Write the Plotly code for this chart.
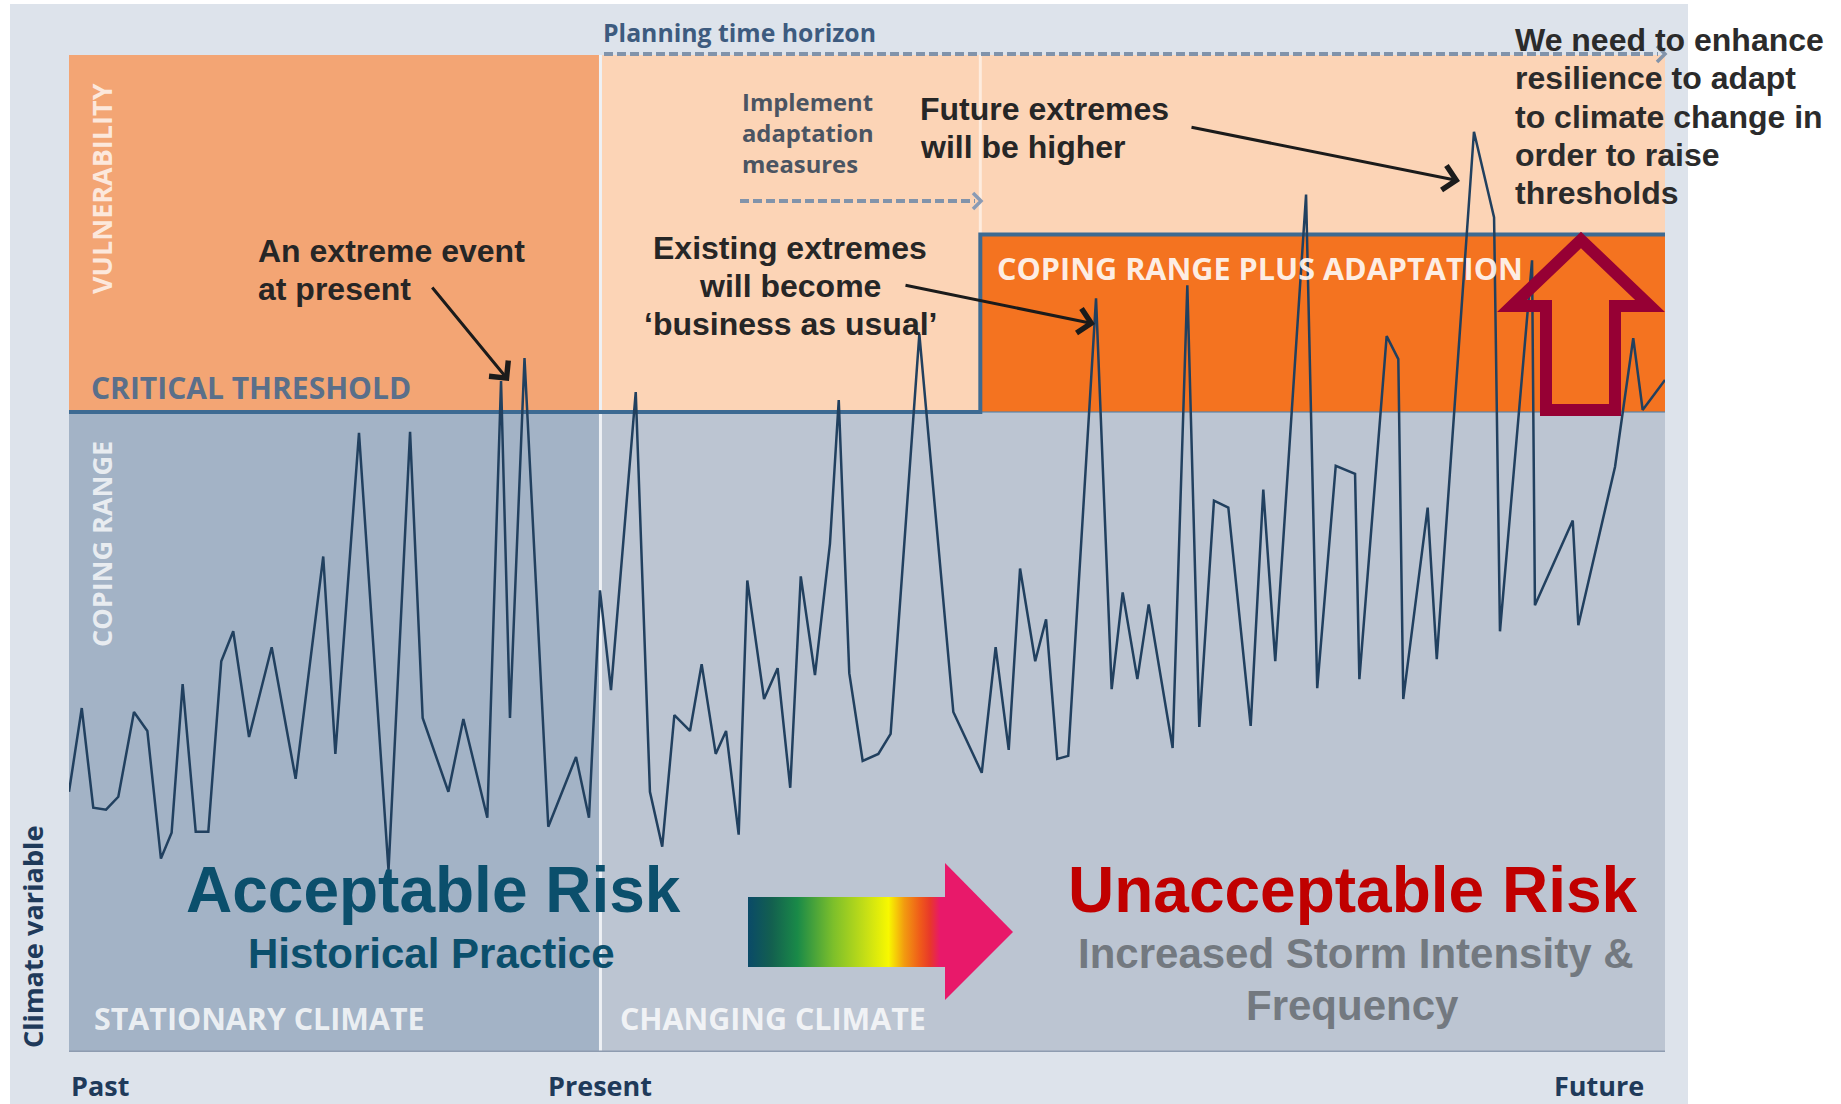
import plotly.graph_objects as go

# ---------------------------------------------------------------------------
# Data: climate variable through time (time: 0 = past ... 100 = future,
# climate variable on a 0-100 scale of the diagram)
# ---------------------------------------------------------------------------
time = [0.0, 0.80, 1.52, 2.32, 3.09, 4.07, 4.91, 5.76, 6.43, 7.12,
        7.94, 8.73, 9.54, 10.29, 11.28, 12.70, 14.20, 15.93, 16.69, 18.17,
        20.02, 21.37, 22.16, 23.77, 24.71, 26.21, 27.07, 27.63, 28.54, 30.03,
        31.77, 32.58, 33.27, 33.96, 35.51, 36.40, 37.17, 37.93, 38.91, 39.64,
        40.52, 41.17, 41.96, 42.50, 43.55, 44.40, 45.19, 45.85, 46.74, 47.68,
        48.23, 48.89, 49.73, 50.71, 51.48, 53.28, 55.41, 57.19, 58.06, 58.88,
        59.59, 60.54, 61.22, 61.92, 62.61, 64.35, 65.33, 66.02, 66.94, 67.65,
        69.15, 70.07, 70.82, 71.74, 72.64, 74.04, 74.83, 75.58, 77.51, 78.21,
        79.37, 80.58, 80.85, 82.56, 83.29, 83.60, 85.13, 85.70, 88.03, 89.29,
        89.66, 91.67, 91.85, 94.22, 94.57, 96.87, 98.01, 98.60, 100.0]

climate = [26.1, 34.5, 24.5, 24.3, 25.6, 34.1, 32.2, 19.4, 22.0, 36.9,
           22.1, 22.1, 39.2, 42.2, 31.6, 40.6, 27.4, 49.7, 29.9, 62.1,
           18.2, 62.2, 33.5, 26.1, 33.4, 23.5, 67.3, 33.5, 69.6, 22.6,
           29.6, 23.5, 46.3, 36.3, 66.2, 26.1, 20.6, 33.8, 32.2, 38.9,
           29.9, 32.2, 21.8, 47.3, 35.4, 38.5, 26.5, 47.7, 37.8, 51.0,
           65.4, 38.0, 29.2, 29.9, 31.9, 72.0, 34.1, 28.0, 40.6, 30.3,
           48.5, 39.2, 43.4, 29.4, 29.7, 75.6, 36.4, 46.1, 37.4, 44.9,
           30.5, 76.9, 32.6, 55.3, 54.6, 32.7, 56.4, 39.2, 86.0, 36.5,
           58.8, 58.0, 37.4, 71.8, 69.5, 35.4, 54.6, 39.4, 92.3, 83.7,
           42.2, 79.4, 44.8, 53.3, 42.8, 58.7, 71.6, 64.4, 67.4]

CRITICAL_THRESHOLD = 64.2   # coping range limit today
ADAPTED_THRESHOLD = 82.0    # coping range plus adaptation
PRESENT = 33.3              # time of "Present"
ADAPTATION_START = 57.1     # adaptation measures implemented

time_labels = ["Past", "Present", "Future"]
time_label_pos = [0.0, PRESENT, 98.8]

# ---------------------------------------------------------------------------
# Canvas geometry (pixels)
# ---------------------------------------------------------------------------
W, H = 1841, 1104
PL, PR, PT, PB = 69, 1665, 55, 1052     # diagram panel

OPEN = "Open Sans"
ARIAL = "Liberation Sans, Arial, sans-serif"


def tx(t):
    """time value -> canvas pixel x"""
    return PL + t / 100 * (PR - PL)


fig = go.Figure()

# climate variable series
fig.add_trace(go.Scatter(
    x=time, y=climate, mode="lines",
    line=dict(color="#21405f", width=2.5),
    xaxis="x", yaxis="y", hoverinfo="skip", showlegend=False,
))

# gradient risk arrow (shaft with colour gradient, solid head)
fig.add_trace(go.Scatter(
    x=[748, 946, 946, 748, 748], y=[897, 897, 967, 967, 897],
    mode="none", fill="toself",
    fillgradient=dict(
        type="horizontal", start=748, stop=946,
        colorscale=[[0.0, "#0a4a68"], [0.12, "#13604f"], [0.25, "#1a8a48"],
                    [0.43, "#7cbf2b"], [0.60, "#c8e015"], [0.71, "#f8f800"],
                    [0.79, "#f29a10"], [0.87, "#ef5a1a"], [0.92, "#e8382a"],
                    [0.97, "#e8196a"], [1.0, "#e8196a"]]),
    xaxis="x2", yaxis="y2", hoverinfo="skip", showlegend=False,
))
fig.add_trace(go.Scatter(
    x=[945, 1013, 945, 945], y=[863, 932, 1000, 863],
    mode="none", fill="toself", fillcolor="#e8196a",
    xaxis="x2", yaxis="y2", hoverinfo="skip", showlegend=False,
))

shapes = []


def px_x(x):
    return x / W


def px_y(y):
    return 1 - y / H


def rect(x0, x1, y0, y1, color, ref="data", layer="below"):
    if ref == "data":
        shapes.append(dict(type="rect", xref="x", yref="y", x0=x0, x1=x1,
                           y0=y0, y1=y1, fillcolor=color, line=dict(width=0),
                           layer=layer))
    else:
        shapes.append(dict(type="rect", xref="paper", yref="paper",
                           x0=px_x(x0), x1=px_x(x1), y0=px_y(y0), y1=px_y(y1),
                           fillcolor=color, line=dict(width=0), layer=layer))


def seg(x0, y0, x1, y1, color, width, ref="data", dash=None, layer="below"):
    ln = dict(color=color, width=width)
    if dash:
        ln["dash"] = dash
    if ref == "data":
        shapes.append(dict(type="line", xref="x", yref="y", x0=x0, y0=y0,
                           x1=x1, y1=y1, line=ln, layer=layer))
    else:
        shapes.append(dict(type="line", xref="paper", yref="paper",
                           x0=px_x(x0), y0=px_y(y0), x1=px_x(x1), y1=px_y(y1),
                           line=ln, layer=layer))


def poly(points, color, width, close=False, layer="above"):
    d = "M " + " L ".join(f"{px_x(x):.5f},{px_y(y):.5f}" for x, y in points)
    if close:
        d += " Z"
    shapes.append(dict(type="path", xref="paper", yref="paper", path=d,
                       line=dict(color=color, width=width), layer=layer))


# page background
rect(10, 1688, 4, H, "#dde3eb", ref="px")

# vulnerability zones
rect(0, PRESENT, CRITICAL_THRESHOLD, 100, "#f3a574")
rect(PRESENT, 100, CRITICAL_THRESHOLD, 100, "#fcd4b6")
rect(ADAPTATION_START, 100, CRITICAL_THRESHOLD, ADAPTED_THRESHOLD, "#f47320")
# coping range zones
rect(0, PRESENT, 0, CRITICAL_THRESHOLD, "#a3b3c6")
rect(PRESENT, 100, 0, CRITICAL_THRESHOLD, "#bcc5d2")

# present divider and faint adaptation divider
seg(PRESENT, 0, PRESENT, 100, "#eef1f5", 3)
seg(ADAPTATION_START, ADAPTED_THRESHOLD, ADAPTATION_START, 100,
    "rgba(255,255,255,0.55)", 3)
# faint old threshold under the adaptation band
seg(ADAPTATION_START, CRITICAL_THRESHOLD, 100, CRITICAL_THRESHOLD,
    "rgba(80,130,170,0.55)", 2)
# panel base line
seg(0, 0, 100, 0, "#8e9cb0", 3)

# threshold line with the adaptation step
shapes.append(dict(
    type="path", xref="x", yref="y", layer="below",
    path=(f"M 0,{CRITICAL_THRESHOLD} L {ADAPTATION_START},{CRITICAL_THRESHOLD} "
          f"L {ADAPTATION_START},{ADAPTED_THRESHOLD} L 100,{ADAPTED_THRESHOLD}"),
    line=dict(color="#3d6a92", width=4)))

# planning time horizon dashed arrow
seg(604, 54, 1658, 54, "#8193aa", 4, ref="px", dash="9px,4px", layer="above")
poly([(1657, 46), (1665, 54), (1657, 62)], "#8193aa", 3.5)
# implement adaptation measures dashed arrow
seg(740, 201, 975, 201, "#8193aa", 4, ref="px", dash="9px,4px", layer="above")
poly([(973, 193), (981, 201), (973, 209)], "#8a9bb5", 3.5)

# raise thresholds arrow (outline)
poly([(1581, 240), (1650, 306), (1615, 306), (1615, 410), (1546, 410),
      (1546, 306), (1512, 306)], "#960034", 12, close=True)

annotations = []


def text(t, x, y, size, color, family=OPEN, weight=700, xanchor="center",
         angle=0):
    annotations.append(dict(
        text=t, x=x, y=y, xref="x2", yref="y2", showarrow=False,
        xanchor=xanchor, yanchor="middle", textangle=angle,
        font=dict(family=family, size=size, color=color, weight=weight)))


def lines(rows, x, y0, step, size, color, family=ARIAL, weight=700,
          xanchor="left"):
    for i, r in enumerate(rows):
        text(r, x, y0 + i * step, size, color, family, weight, xanchor)


def arrow(x0, y0, x1, y1):
    annotations.append(dict(
        text="", x=x1, y=y1, ax=x0, ay=y0, xref="x2", yref="y2",
        axref="x2", ayref="y2", showarrow=True, arrowhead=4, arrowsize=1.6,
        arrowwidth=3, arrowcolor="#1b1b1b", standoff=0))


# diagram labels
text("Planning time horizon", 601, 32, 24.8, "#3d5b7f", xanchor="left")
lines(["Implement", "adaptation", "measures"], 740, 102, 31, 23.8, "#4b5462",
      family=OPEN, weight=700)
text("VULNERABILITY", 101, 189, 27, "rgba(255,255,255,0.75)", angle=-90)
text("COPING RANGE", 101, 544, 27, "rgba(255,255,255,0.75)", angle=-90)
text("CRITICAL THRESHOLD", 89, 387, 30, "#5a6f8a", xanchor="left")
text("COPING RANGE PLUS ADAPTATION", 995, 268, 30.6, "rgba(255,255,255,0.88)",
     xanchor="left")
text("STATIONARY CLIMATE", 92, 1018, 30.4, "rgba(255,255,255,0.8)", xanchor="left")
text("CHANGING CLIMATE", 618, 1018, 30.4, "rgba(255,255,255,0.8)", xanchor="left")
text("Climate variable", 32, 937, 27.2, "#1f3a5a", angle=-90)

# time axis labels
for lab, t, anchor in zip(time_labels, time_label_pos, ["left", "center", "right"]):
    text(lab, tx(t), 1085, 27, "#1f3a5a", xanchor=anchor)

# callouts
BLACK = "#262626"
lines(["An extreme event", "at present"], 256, 251, 38, 32, BLACK)
arrow(431, 286, 509, 381)
lines(["Existing extremes", "will become", "\u2018business as usual\u2019"],
      790, 248, 38, 32, BLACK, xanchor="center")
arrow(904, 285, 1095, 324)
lines(["Future extremes", "will be higher"], 918, 109, 38, 32, BLACK)
arrow(1190, 127, 1460, 181)
lines(["We need to enhance", "resilience to adapt", "to climate change in",
       "order to raise", "thresholds"], 1513, 40, 38.3, 32, "#2b2b2b")

# risk banner
text("Acceptable Risk", 433, 890, 64, "#0b4f6c", family=ARIAL)
text("Historical Practice", 431, 953, 42, "#0b4f6c", family=ARIAL)
text("Unacceptable Risk", 1353, 890, 64, "#c00000", family=ARIAL)
text("Increased Storm Intensity &", 1356, 953, 42, "#737980", family=ARIAL)
text("Frequency", 1352, 1005, 42, "#737980", family=ARIAL)

fig.update_layout(
    width=W, height=H,
    margin=dict(l=0, r=0, t=0, b=0),
    paper_bgcolor="white", plot_bgcolor="rgba(0,0,0,0)",
    showlegend=False,
    xaxis=dict(domain=[PL / W, PR / W], range=[0, 100], visible=False,
               fixedrange=True),
    yaxis=dict(domain=[1 - PB / H, 1 - PT / H], range=[0, 100], visible=False,
               fixedrange=True),
    xaxis2=dict(domain=[0, 1], range=[0, W], visible=False, anchor="y2",
                fixedrange=True),
    yaxis2=dict(domain=[0, 1], range=[H, 0], visible=False, anchor="x2",
                fixedrange=True),
    shapes=shapes,
    annotations=annotations,
)

fig.write_html("out.html")
